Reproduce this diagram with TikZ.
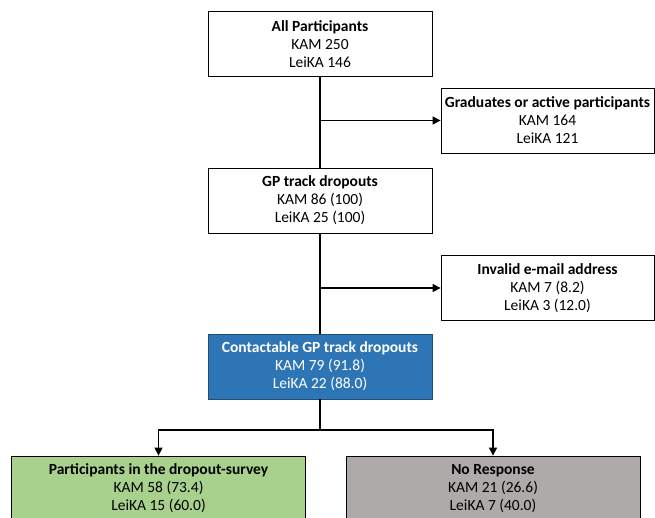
\documentclass[tikz,border=0pt]{standalone}
\usepackage{fontspec}
\setmainfont{Carlito}
\usetikzlibrary{arrows.meta}

\begin{document}
\begin{tikzpicture}[x=1pt, y=-1pt,
    box/.style={draw=black, line width=0.8pt, fill=white,
        minimum width=224pt, minimum height=65pt, inner sep=0pt,
        align=center, font=\fontsize{15.5}{18}\selectfont},
    sidebox/.style={box, minimum width=213pt},
    wide/.style={box, minimum width=294pt},
    link/.style={line width=1.3pt},
    arrow/.style={line width=1.3pt, -{Triangle[length=8pt, width=8pt]}}
]
    \clip (0,0) rectangle (655,517);
    \definecolor{contactblue}{HTML}{2E75B6}
    \definecolor{contactedge}{HTML}{1F4E79}
    \definecolor{surveygreen}{HTML}{A9D18E}
    \definecolor{noreplygray}{HTML}{AEAAAA}

    \node[box] (all) at (320,44) {\textbf{All Participants}\\KAM 250\\LeiKA 146};
    \node[sidebox] (grad) at (547.5,120.5) {\textbf{Graduates or active participants}\\KAM 164\\LeiKA 121};
    \node[box] (gp) at (320,200.5) {\textbf{GP track dropouts}\\KAM 86 (100)\\LeiKA 25 (100)};
    \node[sidebox] (invalid) at (547.5,288) {\textbf{Invalid e-mail address}\\KAM 7 (8.2)\\LeiKA 3 (12.0)};
    \node[box, fill=contactblue, draw=contactedge, text=white] (contact) at (320,366.5)
        {\textbf{Contactable GP track dropouts}\\KAM 79 (91.8)\\LeiKA 22 (88.0)};
    \node[wide, fill=surveygreen] (survey) at (158.5,488.5)
        {\textbf{Participants in the dropout-survey}\\KAM 58 (73.4)\\LeiKA 15 (60.0)};
    \node[wide, fill=noreplygray] (noreply) at (493,488.5)
        {\textbf{No Response}\\KAM 21 (26.6)\\LeiKA 7 (40.0)};
    \coordinate (split) at (320,430);

    \draw[link] (all) -- (gp);
    \draw[arrow] (all.south |- grad.west) -- (grad.west);
    \draw[link] (gp) -- (contact);
    \draw[arrow] (gp.south |- invalid.west) -- (invalid.west);
    \draw[link] (contact) -- (split);
    \draw[arrow] (split) -| (survey.north);
    \draw[arrow] (split) -| (noreply.north);
\end{tikzpicture}
\end{document}
